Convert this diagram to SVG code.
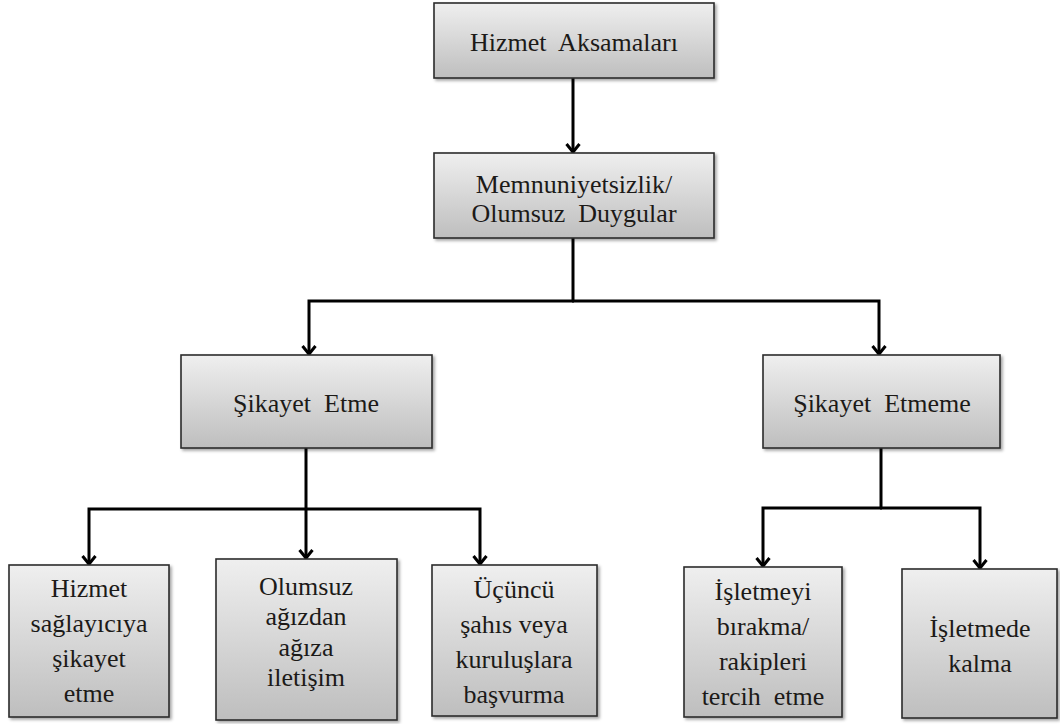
<svg xmlns="http://www.w3.org/2000/svg" width="1060" height="724" viewBox="0 0 1060 724">
  <style>
    .box { fill: url(#boxFill); stroke: #2b2b2b; stroke-width: 1.6; filter: url(#shadow); }
    text { font-family: "Liberation Serif", "Times New Roman", Tinos, "Noto Serif", "DejaVu Serif", FreeSerif, serif; font-size: 26px; fill: #1c1a18; text-anchor: middle; white-space: pre; }
    .wire { fill: none; stroke: #000; stroke-width: 3; stroke-linejoin: miter; }
    .arrow { marker-end: url(#chev); }
  </style>
  <defs>
    <linearGradient id="boxFill" x1="0" y1="0" x2="0" y2="1">
      <stop offset="0" stop-color="#efefef"/>
      <stop offset="1" stop-color="#bebebe"/>
    </linearGradient>
    <filter id="shadow" x="-5%" y="-5%" width="115%" height="120%">
      <feDropShadow dx="2" dy="2" stdDeviation="1.5" flood-color="#000" flood-opacity="0.35"/>
    </filter>
    <!-- open chevron arrowhead, drawn pointing along +x -->
    <marker id="chev" markerUnits="userSpaceOnUse" markerWidth="20" markerHeight="20" refX="0" refY="0" orient="auto" overflow="visible">
      <path d="M-8,-6.5 L0,0 L-8,6.5" fill="none" stroke="#000" stroke-width="3" stroke-linejoin="miter"/>
    </marker>
  </defs>

  <g id="connectors">
    <path class="wire arrow" d="M573,78 V152"/>
    <path class="wire" d="M573,238 V301"/>
    <path class="wire arrow" d="M574,301 H309 V354"/>
    <path class="wire arrow" d="M572,301 H879 V354"/>
    <path class="wire" d="M306,448 V509"/>
    <path class="wire arrow" d="M307,509 H89 V564"/>
    <path class="wire arrow" d="M306,509 V558"/>
    <path class="wire arrow" d="M305,509 H480 V564"/>
    <path class="wire" d="M881,448 V508"/>
    <path class="wire arrow" d="M882,508 H763 V566"/>
    <path class="wire arrow" d="M880,508 H980 V568"/>
  </g>

  <g id="hizmet-aksamalari">
    <rect class="box" x="434" y="3" width="280" height="75"/>
    <text x="574" y="51">Hizmet  Aksamaları</text>
  </g>

  <g id="memnuniyetsizlik">
    <rect class="box" x="434" y="153" width="280" height="85"/>
    <text x="574" y="193">Memnuniyetsizlik/</text>
    <text x="574" y="222">Olumsuz  Duygular</text>
  </g>

  <g id="sikayet-etme">
    <rect class="box" x="181" y="355" width="251" height="93"/>
    <text x="306" y="412">Şikayet  Etme</text>
  </g>

  <g id="sikayet-etmeme">
    <rect class="box" x="763" y="355" width="237" height="93"/>
    <text x="882" y="412">Şikayet  Etmeme</text>
  </g>

  <g id="hizmet-saglayiciya">
    <rect class="box" x="9" y="565" width="160" height="152"/>
    <text x="89" y="597">Hizmet</text>
    <text x="89" y="632">sağlayıcıya</text>
    <text x="89" y="667">şikayet</text>
    <text x="89" y="702">etme</text>
  </g>

  <g id="olumsuz-agizdan">
    <rect class="box" x="216" y="559" width="181" height="161"/>
    <text x="306" y="595">Olumsuz</text>
    <text x="306" y="625">ağızdan</text>
    <text x="306" y="656">ağıza</text>
    <text x="306" y="686">iletişim</text>
  </g>

  <g id="ucuncu-sahis">
    <rect class="box" x="432" y="565" width="165" height="151"/>
    <text x="514" y="598">Üçüncü</text>
    <text x="514" y="633">şahıs veya</text>
    <text x="514" y="668">kuruluşlara</text>
    <text x="514" y="703">başvurma</text>
  </g>

  <g id="isletmeyi-birakma">
    <rect class="box" x="684" y="567" width="158" height="150"/>
    <text x="763" y="600">İşletmeyi</text>
    <text x="763" y="635">bırakma/</text>
    <text x="763" y="670">rakipleri</text>
    <text x="763" y="705">tercih  etme</text>
  </g>

  <g id="isletmede-kalma">
    <rect class="box" x="902" y="569" width="155" height="149"/>
    <text x="980" y="637">İşletmede</text>
    <text x="980" y="672">kalma</text>
  </g>
</svg>
